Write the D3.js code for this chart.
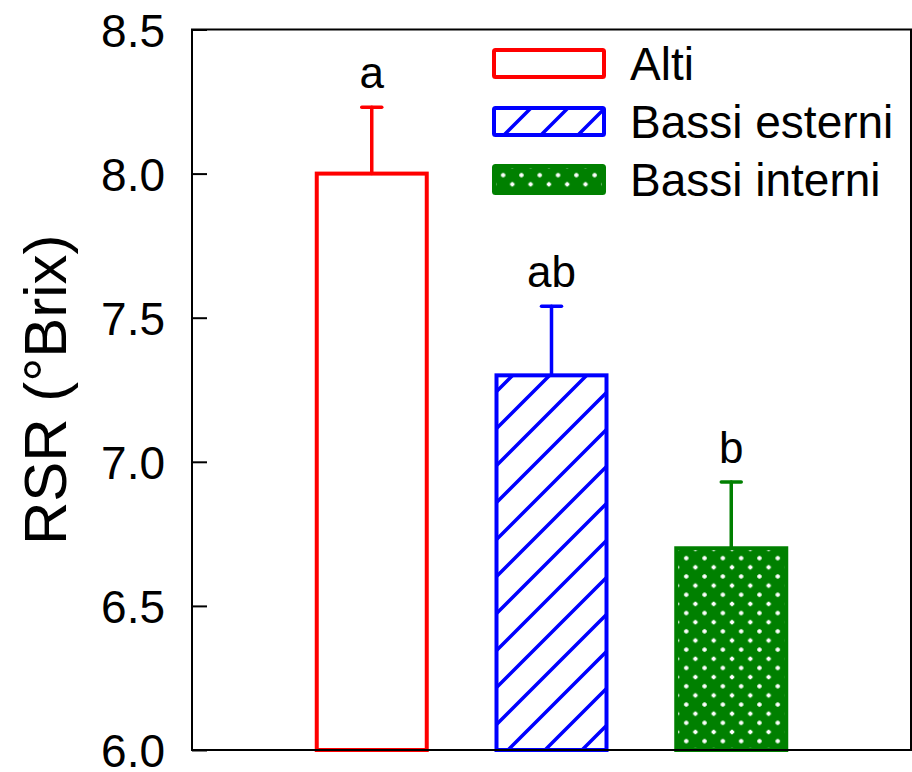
<!DOCTYPE html>
<html>
<head>
<meta charset="utf-8">
<script src="https://cdn.jsdelivr.net/npm/d3@7"></script>
<style>
  body { margin: 0; background: #fff; }
  text { font-family: "Liberation Sans", Arial, sans-serif; fill: #000; }
</style>
</head>
<body>
<svg id="chart"></svg>
<script>
// data
var categories = ["Alti", "Bassi esterni", "Bassi interni"];
var means = [8.0, 7.3, 6.7];
var errors = [0.23, 0.24, 0.23];
var letters = ["a", "ab", "b"];
var yTicks = [6.0, 6.5, 7.0, 7.5, 8.0, 8.5];
var colors = ["#ff0000", "#0000ff", "#008000"];
var fills = ["#fff", "url(#hatch)", "url(#dots)"];

var data = categories.map(function(c, i) {
    return { cat: c, mean: means[i], err: errors[i], letter: letters[i], color: colors[i], fill: fills[i] };
});

var svg = d3.select("#chart")
    .attr("width", 912)
    .attr("height", 772);

var plotLeft = 192, plotRight = 911, plotTop = 29.5, plotBottom = 750;

var xScale = d3.scalePoint().domain(categories).range([plotLeft, plotRight]).padding(1),
    yScale = d3.scaleLinear().domain([6, 8.5]).range([plotBottom, plotTop]);

var barWidth = 110;

// patterns
var defs = svg.append("defs");

var hatch = defs.append("pattern")
    .attr("id", "hatch")
    .attr("patternUnits", "userSpaceOnUse")
    .attr("width", 37)
    .attr("height", 37);
hatch.append("rect").attr("width", 37).attr("height", 37).attr("fill", "#fff");
hatch.append("path")
    .attr("d", "M-5,42 L42,-5 M-10,10 L10,-10 M27,47 L47,27")
    .attr("stroke", "#0000ff")
    .attr("stroke-width", 3.5);

var dots = defs.append("pattern")
    .attr("id", "dots")
    .attr("patternUnits", "userSpaceOnUse")
    .attr("width", 18.3)
    .attr("height", 18.3);
dots.append("rect").attr("width", 18.3).attr("height", 18.3).attr("fill", "#008000");
// little white plus-shaped dots
[[0, 0], [18.3, 0], [0, 18.3], [18.3, 18.3], [9.15, 9.15]].forEach(function(p) {
    dots.append("path")
        .attr("d", "M" + (p[0] - 2.2) + "," + p[1] + "L" + (p[0] + 2.2) + "," + p[1] +
                   "M" + p[0] + "," + (p[1] - 2.2) + "L" + p[0] + "," + (p[1] + 2.2))
        .attr("stroke", "#fff")
        .attr("stroke-width", 2.2);
});

// bars
svg.selectAll(".bar")
    .data(data)
    .enter().append("rect")
    .attr("class", "bar")
    .attr("x", function(d) { return xScale(d.cat) - barWidth / 2; })
    .attr("y", function(d) { return yScale(d.mean); })
    .attr("width", barWidth)
    .attr("height", function(d) { return yScale(6) - yScale(d.mean); })
    .attr("fill", function(d) { return d.fill; })
    .attr("stroke", function(d) { return d.color; })
    .attr("stroke-width", 4);

// error bars
var eb = svg.selectAll(".err")
    .data(data)
    .enter().append("g")
    .attr("class", "err")
    .attr("stroke", function(d) { return d.color; })
    .attr("stroke-width", 3.5)
    .attr("stroke-linecap", "round");

eb.append("line")
    .attr("x1", function(d) { return xScale(d.cat); })
    .attr("x2", function(d) { return xScale(d.cat); })
    .attr("y1", function(d) { return yScale(d.mean); })
    .attr("y2", function(d) { return yScale(d.mean + d.err); });

eb.append("line")
    .attr("x1", function(d) { return xScale(d.cat) - 10; })
    .attr("x2", function(d) { return xScale(d.cat) + 10; })
    .attr("y1", function(d) { return yScale(d.mean + d.err); })
    .attr("y2", function(d) { return yScale(d.mean + d.err); });

// significance letters
svg.selectAll(".letter")
    .data(data)
    .enter().append("text")
    .attr("class", "letter")
    .attr("x", function(d) { return xScale(d.cat); })
    .attr("y", function(d) { return yScale(d.mean + d.err) - 19; })
    .attr("text-anchor", "middle")
    .attr("font-size", "44px")
    .text(function(d) { return d.letter; });

// frame
svg.append("rect")
    .attr("x", plotLeft)
    .attr("y", plotTop)
    .attr("width", plotRight - plotLeft)
    .attr("height", plotBottom - plotTop)
    .attr("fill", "none")
    .attr("stroke", "#000")
    .attr("stroke-width", 2);

// y axis
var yAxis = svg.append("g")
    .attr("transform", "translate(" + plotLeft + ",0)")
    .call(d3.axisLeft(yScale)
        .tickValues(yTicks)
        .tickFormat(d3.format(".1f"))
        .tickSizeInner(-15)
        .tickSizeOuter(0)
        .tickPadding(27));
yAxis.select(".domain").remove();
yAxis.selectAll(".tick line").attr("stroke", "#000").attr("stroke-width", 2);
yAxis.selectAll(".tick text")
    .attr("font-size", "46px")
    .attr("font-family", "Liberation Sans, Arial, sans-serif")
    .attr("fill", "#000")
    .attr("dy", "0.36em");

svg.append("text")
    .attr("transform", "translate(66," + ((plotTop + plotBottom) / 2) + ") rotate(-90)")
    .attr("text-anchor", "middle")
    .attr("font-size", "60px")
    .text("RSR (°Brix)");

// legend
var legend = svg.selectAll(".legend")
    .data(data)
    .enter().append("g")
    .attr("class", "legend")
    .attr("transform", function(d, i) { return "translate(494," + (50 + i * 58) + ")"; });

legend.append("rect")
    .attr("width", 110)
    .attr("height", 27)
    .attr("rx", 1.5)
    .attr("fill", function(d) { return d.fill; })
    .attr("stroke", function(d) { return d.color; })
    .attr("stroke-width", 4);

legend.append("text")
    .attr("x", 136)
    .attr("y", 13.5)
    .attr("dy", "0.36em")
    .attr("font-size", "46px")
    .text(function(d) { return d.cat; });
</script>
</body>
</html>
